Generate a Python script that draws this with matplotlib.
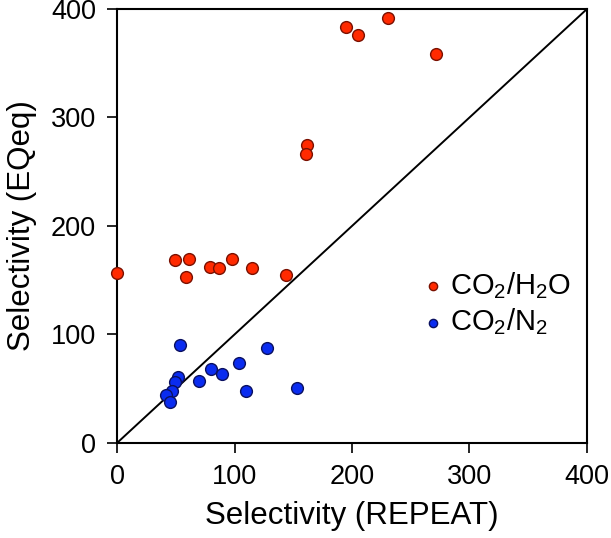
import matplotlib
matplotlib.use("Agg")
import matplotlib.pyplot as plt

plt.rcParams['font.family'] = ['Liberation Sans', 'DejaVu Sans']
plt.rcParams['mathtext.fontset'] = 'custom'
plt.rcParams['mathtext.rm'] = 'Liberation Sans'
plt.rcParams['mathtext.it'] = 'Liberation Sans:italic'

# CO2/H2O selectivities
h2o_repeat = [0, 49, 61, 59, 79, 87, 98, 115, 144, 161.5, 160.5, 195, 205.5, 230.5, 271.5]
h2o_eqeq = [157, 169, 170, 153, 162, 161, 170, 161, 155, 274.5, 266, 383, 376, 392, 358.5]

# CO2/N2 selectivities
n2_repeat = [54, 128, 104, 80, 89, 70, 52, 49.5, 47, 41.5, 45, 110, 153]
n2_eqeq = [90, 87.5, 74, 68, 64, 57.5, 60.5, 56, 47.5, 44, 38, 48, 51]

fig = plt.figure(figsize=(6.11, 5.38), dpi=100)
ax = fig.add_axes([0.1915, 0.1766, 0.7692, 0.8067])

ax.plot([0, 400], [0, 400], color="black", lw=1.4, zorder=1)

ax.scatter(h2o_repeat, h2o_eqeq, s=72, color="#ff2a00", edgecolors="#7a1000",
           linewidths=1.0, zorder=3, label=r"CO$_2$/H$_2$O", clip_on=False)
ax.scatter(n2_repeat, n2_eqeq, s=72, color="#0a2cf0", edgecolors="#0a1060",
           linewidths=1.0, zorder=3, label=r"CO$_2$/N$_2$", clip_on=False)

ax.set_xlim(0, 400)
ax.set_ylim(0, 400)
ax.set_xticks([0, 100, 200, 300, 400])
ax.set_yticks([0, 100, 200, 300, 400])
ax.tick_params(direction="out", length=7, width=1.2, labelsize=19.5, pad=8)
for sp in ax.spines.values():
    sp.set_linewidth(1.5)

ax.set_xlabel("Selectivity (REPEAT)", fontsize=22.5, labelpad=8)
ax.set_ylabel("Selectivity (EQeq)", fontsize=22.5, labelpad=10)

ax.legend(loc="center left", bbox_to_anchor=(0.61, 0.321), frameon=False,
          fontsize=21, markerscale=0.7, handlelength=0.6, handletextpad=0.3,
          labelspacing=0.2, borderpad=0.2)

fig.savefig("out.png", dpi=100)
